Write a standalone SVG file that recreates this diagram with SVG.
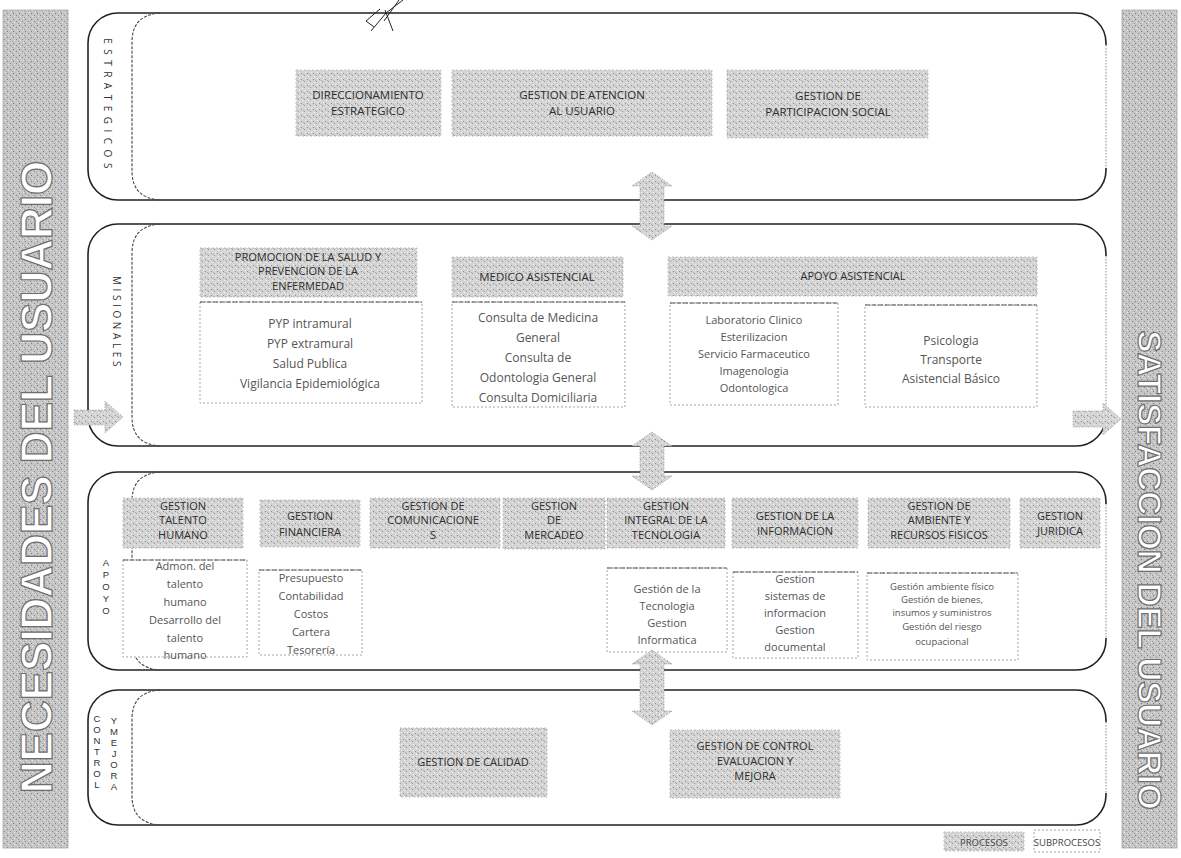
<svg xmlns="http://www.w3.org/2000/svg" width="1181" height="858" viewBox="0 0 1181 858">
<defs>
<pattern id="stip" width="6" height="6" patternUnits="userSpaceOnUse">
<rect width="6" height="6" fill="#d4d4d4"/>
<rect x="1" y="1" width="1" height="1" fill="#8c8c8c"/>
<rect x="4" y="3" width="1" height="1" fill="#9a9a9a"/>
<rect x="2" y="4" width="1" height="1" fill="#f2f2f2"/>
<rect x="5" y="0" width="1" height="1" fill="#efefef"/>
<rect x="3" y="2" width="1" height="1" fill="#b0b0b0"/>
</pattern>
<pattern id="barp" width="6" height="6" patternUnits="userSpaceOnUse">
<rect width="6" height="6" fill="#c6c6c6"/>
<rect x="1" y="1" width="1" height="1" fill="#7a7a7a"/>
<rect x="4" y="3" width="1" height="1" fill="#888"/>
<rect x="2" y="4" width="1" height="1" fill="#e6e6e6"/>
<rect x="5" y="0" width="1" height="1" fill="#e2e2e2"/>
<rect x="0" y="5" width="1" height="1" fill="#999"/>
</pattern>
<style>
.frame{fill:none;stroke:#222;stroke-width:1.6}
.redge{fill:none;stroke:#fff;stroke-width:3}
.rdot{fill:none;stroke:#888;stroke-width:1;stroke-dasharray:1.5 1.5}
.inner{fill:none;stroke:#444;stroke-width:1.1;stroke-dasharray:3 1.5}
.proc{fill:url(#stip);stroke:#b5b5b5;stroke-width:0.8;stroke-dasharray:2 2}
.sub{fill:#fff;stroke:#9a9a9a;stroke-width:0.9;stroke-dasharray:2 2}
.subtop{stroke:#555;stroke-width:1;stroke-dasharray:5 1.5}
.bar{fill:url(#barp);stroke:#aaa;stroke-width:0.8}
.bigt{font-family:"Liberation Sans",Arial,sans-serif;font-weight:bold;fill:#fff;stroke:#6f6f6f;stroke-width:1.2;text-anchor:middle}
.h{font-family:"Open Sans","Liberation Sans",sans-serif;font-size:11px;fill:#2e2e2e;text-anchor:middle}
.h1{font-family:"Open Sans","Liberation Sans",sans-serif;font-size:11.5px;fill:#2e2e2e;text-anchor:middle}
.s{font-family:"Open Sans","Liberation Sans",sans-serif;font-size:12px;fill:#555;text-anchor:middle}
.s11{font-family:"Open Sans","Liberation Sans",sans-serif;font-size:11px;fill:#555;text-anchor:middle}
.s10{font-family:"Open Sans","Liberation Sans",sans-serif;font-size:9.5px;fill:#555;text-anchor:middle}
.lab{font-family:"Open Sans","Liberation Sans",sans-serif;font-size:10px;fill:#333;text-anchor:middle}
.stk{font-family:"Liberation Sans",Arial,sans-serif;font-size:9.5px;fill:#333;text-anchor:middle}
.arr{fill:url(#stip);stroke:#a0a0a0;stroke-width:0.8;stroke-dasharray:1.5 1.5}
.leg{font-family:"Open Sans","Liberation Sans",sans-serif;font-size:9.5px;fill:#444;text-anchor:middle}
</style>
</defs>
<rect width="1181" height="858" fill="#fff"/>

<!-- side bars -->
<g id="necesidades">
<rect class="bar" x="3" y="10" width="65" height="838"/>
<text class="bigt" font-size="44" transform="translate(52,477) rotate(-90)">NECESIDADES DEL USUARIO</text>
</g>
<g id="satisfaccion">
<rect class="bar" x="1122" y="10" width="55" height="838"/>
<text class="bigt" font-size="33" transform="translate(1138,570) rotate(90)">SATISFACCION DEL USUARIO</text>
</g>

<!-- stray mark at top -->
<g id="marca" fill="none" stroke="#222" stroke-width="1">
<path d="M374,27 L366,21 L380,9"/>
<path d="M371,31 L386,13 L403,0"/>
<path d="M384,21 L399,0"/>
<path d="M385,10 L393,31"/>
</g>

<!-- ESTRATEGICOS -->
<g id="estrategicos">
<rect class="frame" x="88" y="13" width="1018" height="187" rx="30"/>
<path class="redge" d="M1106,45 V168"/>
<path class="rdot" d="M1106,45 V168"/>
<path class="inner" d="M160,13 Q132,15 132,42 V171 Q132,198 160,200"/>
<text class="lab" letter-spacing="5.5" transform="translate(104,106) rotate(90)">ESTRATEGICOS</text>
<g id="direccionamiento"><rect class="proc" x="296" y="70" width="145" height="66"/>
<text class="h1" x="368" y="99">DIRECCIONAMIENTO</text><text class="h1" x="368" y="115">ESTRATEGICO</text></g>
<g id="atencion"><rect class="proc" x="452" y="70" width="260" height="66"/>
<text class="h1" x="582" y="99">GESTION DE ATENCION</text><text class="h1" x="582" y="115">AL USUARIO</text></g>
<g id="participacion"><rect class="proc" x="727" y="70" width="201" height="68"/>
<text class="h1" x="828" y="100">GESTION  DE</text><text class="h1" x="828" y="116">PARTICIPACION SOCIAL</text></g>
</g>

<!-- MISIONALES -->
<g id="misionales">
<rect class="frame" x="88" y="224" width="1018" height="222" rx="30"/>
<path class="redge" d="M1106,256 V414"/>
<path class="rdot" d="M1106,256 V414"/>
<path class="inner" d="M160,224 Q132,226 132,253 V417 Q132,444 160,446"/>
<text class="lab" letter-spacing="3.6" transform="translate(113,323) rotate(90)">MISIONALES</text>
<g id="promocion"><rect class="proc" x="200" y="248" width="217" height="49"/>
<text class="h" x="308" y="261">PROMOCION DE LA SALUD Y</text>
<text class="h" x="308" y="275">PREVENCION DE LA</text>
<text class="h" x="308" y="290">ENFERMEDAD</text></g>
<g id="promocion-sub"><rect class="sub" x="200" y="302" width="222" height="101"/>
<line class="subtop" x1="200" y1="302" x2="422" y2="302"/>
<text class="s" x="310" y="328">PYP intramural</text>
<text class="s" x="310" y="348">PYP extramural</text>
<text class="s" x="310" y="368">Salud Publica</text>
<text class="s" x="310" y="388">Vigilancia Epidemiológica</text></g>
<g id="medico"><rect class="proc" x="452" y="257" width="171" height="40"/>
<text class="h1" x="537" y="281">MEDICO ASISTENCIAL</text></g>
<g id="medico-sub"><rect class="sub" x="452" y="302" width="173" height="105"/>
<line class="subtop" x1="452" y1="302" x2="625" y2="302"/>
<text class="s" x="538" y="322">Consulta de Medicina</text>
<text class="s" x="538" y="342">General</text>
<text class="s" x="538" y="362">Consulta de</text>
<text class="s" x="538" y="382">Odontologia General</text>
<text class="s" x="538" y="402">Consulta Domiciliaria</text></g>
<g id="apoyo-asistencial"><rect class="proc" x="668" y="257" width="369" height="39"/>
<text class="h" x="853" y="280">APOYO ASISTENCIAL</text></g>
<g id="laboratorio-sub"><rect class="sub" x="670" y="303" width="168" height="102"/>
<line class="subtop" x1="670" y1="303" x2="838" y2="303"/>
<text class="s11" x="754" y="324">Laboratorio Clinico</text>
<text class="s11" x="754" y="341">Esterilizacion</text>
<text class="s11" x="754" y="358">Servicio Farmaceutico</text>
<text class="s11" x="754" y="375">Imagenologia</text>
<text class="s11" x="754" y="392">Odontologica</text></g>
<g id="psicologia-sub"><rect class="sub" x="865" y="305" width="172" height="102"/>
<line class="subtop" x1="865" y1="305" x2="1037" y2="305"/>
<text class="s" x="951" y="345">Psicologia</text>
<text class="s" x="951" y="364">Transporte</text>
<text class="s" x="951" y="383">Asistencial Básico</text></g>
</g>

<!-- APOYO -->
<g id="apoyo">
<rect class="frame" x="88" y="472" width="1018" height="198" rx="30"/>
<path class="redge" d="M1106,504 V638"/>
<path class="rdot" d="M1106,504 V638"/>
<path class="inner" d="M160,472 Q132,474 132,501 V641 Q132,668 160,670"/>
<g class="stk" font-size="10.5"><text x="106" y="566">A</text><text x="106" y="578">P</text><text x="106" y="590">O</text><text x="106" y="602">Y</text><text x="106" y="614">O</text></g>
<g id="talento"><rect class="proc" x="123" y="498" width="120" height="50"/>
<text class="h" x="183" y="510">GESTION</text><text class="h" x="183" y="524">TALENTO</text><text class="h" x="183" y="539">HUMANO</text></g>
<g id="talento-sub"><rect class="sub" x="123" y="560" width="124" height="97"/>
<line class="subtop" x1="123" y1="560" x2="247" y2="560"/>
<g class="s11"><text x="185" y="570">Admon. del</text><text x="185" y="588">talento</text><text x="185" y="606">humano</text><text x="185" y="624">Desarrollo del</text><text x="185" y="642">talento</text><text x="185" y="659">humano</text></g></g>
<g id="financiera"><rect class="proc" x="260" y="500" width="100" height="47"/>
<text class="h" x="310" y="520">GESTION</text><text class="h" x="310" y="536">FINANCIERA</text></g>
<g id="financiera-sub"><rect class="sub" x="259" y="570" width="103" height="85"/>
<line class="subtop" x1="259" y1="570" x2="362" y2="570"/>
<g class="s11"><text x="311" y="582">Presupuesto</text><text x="311" y="600">Contabilidad</text><text x="311" y="618">Costos</text><text x="311" y="636">Cartera</text><text x="311" y="654">Tesorería</text></g></g>
<g id="comunicaciones"><rect class="proc" x="370" y="498" width="130" height="50"/>
<text class="h" x="433" y="510">GESTION  DE</text><text class="h" x="433" y="524">COMUNICACIONE</text><text class="h" x="433" y="539">S</text></g>
<g id="mercadeo"><rect class="proc" x="503" y="498" width="102" height="51"/>
<text class="h" x="554" y="510">GESTION</text><text class="h" x="554" y="524">DE</text><text class="h" x="554" y="539">MERCADEO</text></g>
<g id="tecnologia"><rect class="proc" x="607" y="498" width="118" height="50"/>
<text class="h" x="666" y="510">GESTION</text><text class="h" x="666" y="524">INTEGRAL DE LA</text><text class="h" x="666" y="539">TECNOLOGIA</text></g>
<g id="tecnologia-sub"><rect class="sub" x="607" y="568" width="120" height="84"/>
<line class="subtop" x1="607" y1="568" x2="727" y2="568"/>
<g class="s11"><text x="667" y="593">Gestión de la</text><text x="667" y="610">Tecnologia</text><text x="667" y="627">Gestion</text><text x="667" y="644">Informatica</text></g></g>
<g id="informacion"><rect class="proc" x="732" y="498" width="126" height="50"/>
<text class="h" x="795" y="520">GESTION DE LA</text><text class="h" x="795" y="535">INFORMACION</text></g>
<g id="informacion-sub"><rect class="sub" x="733" y="572" width="125" height="86"/>
<line class="subtop" x1="733" y1="572" x2="858" y2="572"/>
<g class="s11"><text x="795" y="583">Gestion</text><text x="795" y="600">sistemas de</text><text x="795" y="617">informacion</text><text x="795" y="634">Gestion</text><text x="795" y="651">documental</text></g></g>
<g id="ambiente"><rect class="proc" x="868" y="498" width="142" height="50"/>
<text class="h" x="939" y="510">GESTION  DE</text><text class="h" x="939" y="524">AMBIENTE Y</text><text class="h" x="939" y="539">RECURSOS FISICOS</text></g>
<g id="ambiente-sub"><rect class="sub" x="867" y="573" width="151" height="87"/>
<line class="subtop" x1="867" y1="573" x2="1018" y2="573"/>
<g class="s10"><text x="942" y="590">Gestión ambiente físico</text><text x="942" y="603">Gestión de bienes,</text><text x="942" y="616">insumos y suministros</text><text x="942" y="630">Gestión del riesgo</text><text x="942" y="645">ocupacional</text></g></g>
<g id="juridica"><rect class="proc" x="1020" y="498" width="80" height="50"/>
<text class="h" x="1060" y="520">GESTION</text><text class="h" x="1060" y="535">JURIDICA</text></g>
</g>

<!-- CONTROL Y MEJORA -->
<g id="control">
<rect class="frame" x="88" y="690" width="1018" height="135" rx="30"/>
<path class="redge" d="M1106,722 V793"/>
<path class="rdot" d="M1106,722 V793"/>
<path class="inner" d="M160,690 Q132,692 132,719 V796 Q132,823 160,825"/>
<g class="stk"><text x="97" y="722">C</text><text x="97" y="733">O</text><text x="97" y="744">N</text><text x="97" y="755">T</text><text x="97" y="766">R</text><text x="97" y="777">O</text><text x="97" y="788">L</text></g>
<g class="stk"><text x="114" y="724">Y</text><text x="114" y="735">M</text><text x="114" y="746">E</text><text x="114" y="757">J</text><text x="114" y="768">O</text><text x="114" y="779">R</text><text x="114" y="790">A</text></g>
<g id="calidad"><rect class="proc" x="400" y="728" width="147" height="69"/>
<text class="h" x="473" y="766">GESTION DE CALIDAD</text></g>
<g id="control-eval"><rect class="proc" x="670" y="730" width="170" height="68"/>
<text class="h" x="755" y="750">GESTION DE CONTROL</text><text class="h" x="755" y="765">EVALUACION Y</text><text class="h" x="755" y="780">MEJORA</text></g>
</g>

<!-- connectors -->
<g id="connectors">
<path class="arr" d="M652,172 L672,186 L664,186 L664,226 L672,226 L652,240 L632,226 L640,226 L640,186 L632,186 Z"/>
<path class="arr" d="M652,432 L672,446 L664,446 L664,476 L672,476 L652,490 L632,476 L640,476 L640,446 L632,446 Z"/>
<path class="arr" d="M652,650 L672,664 L664,664 L664,711 L672,711 L652,725 L632,711 L640,711 L640,664 L632,664 Z"/>
<path class="arr" d="M74,410 L105,410 L105,401 L123,417 L105,433 L105,425 L74,425 Z"/>
<path class="arr" d="M1073,411 L1103,411 L1103,403 L1121,419 L1103,435 L1103,427 L1073,427 Z"/>
</g>

<!-- legend -->
<g id="legend">
<rect class="proc" x="944" y="832" width="80" height="19"/>
<text class="leg" x="984" y="846">PROCESOS</text>
<rect class="sub" x="1034" y="830" width="66" height="22"/>
<text class="leg" x="1067" y="846">SUBPROCESOS</text>
</g>
</svg>
